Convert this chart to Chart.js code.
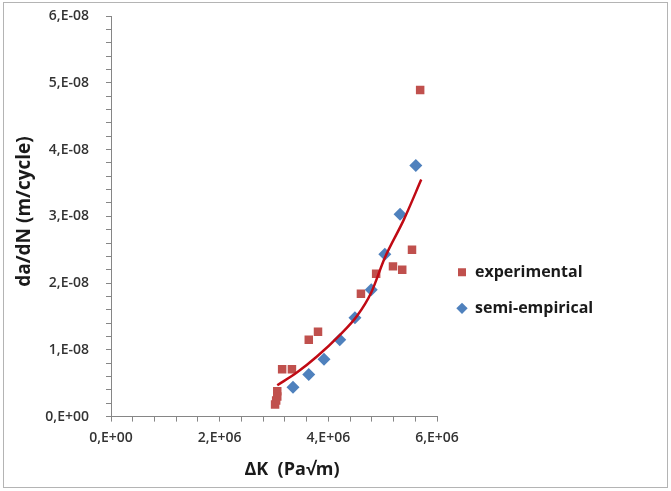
<!DOCTYPE html>
<html>
<head>
<meta charset="utf-8">
<script src="https://cdn.jsdelivr.net/npm/chart.js@4.4.1/dist/chart.umd.min.js"></script>
<style>
    html, body { margin: 0; padding: 0; background: #fff; }
    #frame { position: absolute; left: 3px; top: 2px; width: 663px; height: 484px; border: 1px solid #b4b4b4; }
    canvas { display: block; }
</style>
</head>
<body>
<div id="frame"><canvas id="crackChart" width="663" height="484"></canvas></div>
<script>
    // experimental points (ΔK in Pa√m, da/dN in m/cycle)
    const expK = [3.06e6, 3.06e6, 3.04e6, 3.02e6, 3.15e6, 3.33e6, 3.64e6, 3.81e6, 4.60e6, 4.88e6, 5.19e6, 5.36e6, 5.54e6, 5.69e6];
    const expRate = [3.8e-9, 3.0e-9, 2.4e-9, 1.8e-9, 7.1e-9, 7.1e-9, 1.15e-8, 1.27e-8, 1.84e-8, 2.14e-8, 2.25e-8, 2.20e-8, 2.50e-8, 4.89e-8];

    // semi-empirical points
    const semiK = [3.35e6, 3.64e6, 3.92e6, 4.21e6, 4.49e6, 4.79e6, 5.04e6, 5.32e6, 5.61e6];
    const semiRate = [4.4e-9, 6.3e-9, 8.6e-9, 1.15e-8, 1.48e-8, 1.90e-8, 2.43e-8, 3.03e-8, 3.76e-8];

    // fitted trend curve
    const fitK = [3.06e6, 3.42e6, 3.79e6, 4.21e6, 4.53e6, 4.79e6, 5.04e6, 5.39e6, 5.71e6];
    const fitRate = [4.7e-9, 6.6e-9, 9.0e-9, 1.22e-8, 1.51e-8, 1.86e-8, 2.38e-8, 2.95e-8, 3.55e-8];

    const xTickValues = [0, 2e6, 4e6, 6e6];
    const xTickLabels = ['0,E+00', '2,E+06', '4,E+06', '6,E+06'];
    const yTickValues = [0, 1e-8, 2e-8, 3e-8, 4e-8, 5e-8, 6e-8];
    const yTickLabels = ['0,E+00', '1,E-08', '2,E-08', '3,E-08', '4,E-08', '5,E-08', '6,E-08'];

    const seriesNames = ['experimental', 'semi-empirical'];
    // leading spaces push the titles a little off centre, as in the original
    const xTitle = '\u2003\u2003ΔK  (Pa√m)';
    const yTitle = '\u2002da/dN (m/cycle)';

    function toPoints(xs, ys) {
        return xs.map(function (x, i) { return { x: x, y: ys[i] }; });
    }

    // major + minor tick positions (minor ticks have no label)
    function buildTicks(majors, parts) {
        const out = [];
        for (let i = 0; i < majors.length - 1; i++) {
            const step = (majors[i + 1] - majors[i]) / parts;
            for (let j = 0; j < parts; j++) out.push({ value: majors[i] + j * step });
        }
        out.push({ value: majors[majors.length - 1] });
        return out;
    }

    function labelFor(values, labels, v) {
        for (let i = 0; i < values.length; i++) {
            if (Math.abs(values[i] - v) < Math.abs(values[1] - values[0]) * 1e-6) return labels[i];
        }
        return '';
    }

    const axisColor = '#868686';
    const fontFamily = '"Open Sans", sans-serif';
    const tickFont = { family: fontFamily, size: 14, weight: '600' };
    const xTitleFont = { family: fontFamily, size: 18, weight: 'bold' };
    const yTitleFont = { family: fontFamily, size: 19, weight: 'bold' };
    const legendFont = { family: fontFamily, size: 16, weight: 'bold' };

    // fixed room for the legend on the right
    const legendBoxPlugin = {
        id: 'legendBox',
        afterInit: function (chart) {
            const legend = chart.legend;
            const fit = legend.fit;
            legend.fit = function () {
                fit.call(this);
                this.width = 230;
            };
        },
    };

    function drawChart() {
        new Chart(document.getElementById('crackChart'), {
            type: 'scatter',
            plugins: [legendBoxPlugin],
            data: {
                datasets: [{
                    label: seriesNames[0],
                    data: toPoints(expK, expRate),
                    pointStyle: 'rect',
                    pointRadius: 6,
                    pointHoverRadius: 6,
                    backgroundColor: '#C0504D',
                    borderColor: '#C0504D',
                    borderWidth: 0,
                    order: 2,
                }, {
                    label: seriesNames[1],
                    data: toPoints(semiK, semiRate),
                    pointStyle: 'rectRot',
                    pointRadius: 6.5,
                    pointHoverRadius: 6.5,
                    backgroundColor: '#4F81BD',
                    borderColor: '#4F81BD',
                    borderWidth: 0,
                    order: 1,
                }, {
                    label: 'fit',
                    data: toPoints(fitK, fitRate),
                    showLine: true,
                    pointRadius: 0,
                    borderColor: '#C00A14',
                    borderWidth: 2.5,
                    cubicInterpolationMode: 'monotone',
                    order: 0,
                }],
            },
            options: {
                responsive: false,
                animation: false,
                layout: { padding: { top: 13, right: 0, bottom: 6, left: 9 } },
                plugins: {
                    tooltip: { enabled: false },
                    legend: {
                        position: 'right',
                        fullSize: false,
                        title: { display: true, text: '', font: { size: 10 }, padding: { top: 136, bottom: 0 } },
                        labels: {
                            usePointStyle: true,
                            boxWidth: 10,
                            boxHeight: 8,
                            padding: 20,
                            color: '#1a1a1a',
                            font: legendFont,
                            filter: function (item) { return item.datasetIndex < 2; },
                            sort: function (a, b) { return a.datasetIndex - b.datasetIndex; },
                        },
                    },
                },
                scales: {
                    x: {
                        type: 'linear',
                        min: 0,
                        max: 6e6,
                        afterBuildTicks: function (scale) { scale.ticks = buildTicks(xTickValues, 5); },
                        grid: { drawOnChartArea: false, tickLength: 5, color: axisColor, tickColor: axisColor },
                        border: { color: axisColor, width: 1 },
                        ticks: {
                            autoSkip: false,
                            maxRotation: 0,
                            padding: 8,
                            color: '#333',
                            font: tickFont,
                            callback: function (v) { return labelFor(xTickValues, xTickLabels, v); },
                        },
                        title: { display: true, text: xTitle, color: '#1a1a1a', font: xTitleFont, padding: { top: 5, bottom: 0 } },
                    },
                    y: {
                        type: 'linear',
                        min: 0,
                        max: 6e-8,
                        afterBuildTicks: function (scale) { scale.ticks = buildTicks(yTickValues, 5); },
                        afterFit: function (scale) {
                            scale.width = 98;
                            scale.paddingTop = 0;
                            scale.paddingBottom = 0;
                        },
                        grid: { drawOnChartArea: false, tickLength: 5, color: axisColor, tickColor: axisColor },
                        border: { color: axisColor, width: 1 },
                        ticks: {
                            autoSkip: false,
                            padding: 17,
                            color: '#333',
                            font: tickFont,
                            callback: function (v) { return labelFor(yTickValues, yTickLabels, v); },
                        },
                        title: { display: true, text: yTitle, color: '#1a1a1a', font: yTitleFont, padding: { top: 0, bottom: 8 } },
                    },
                },
            },
        });
    }

    Promise.all([
        document.fonts.load('bold 16px "Open Sans"'),
        document.fonts.load('600 14px "Open Sans"'),
    ]).then(drawChart, drawChart);
</script>
</body>
</html>
